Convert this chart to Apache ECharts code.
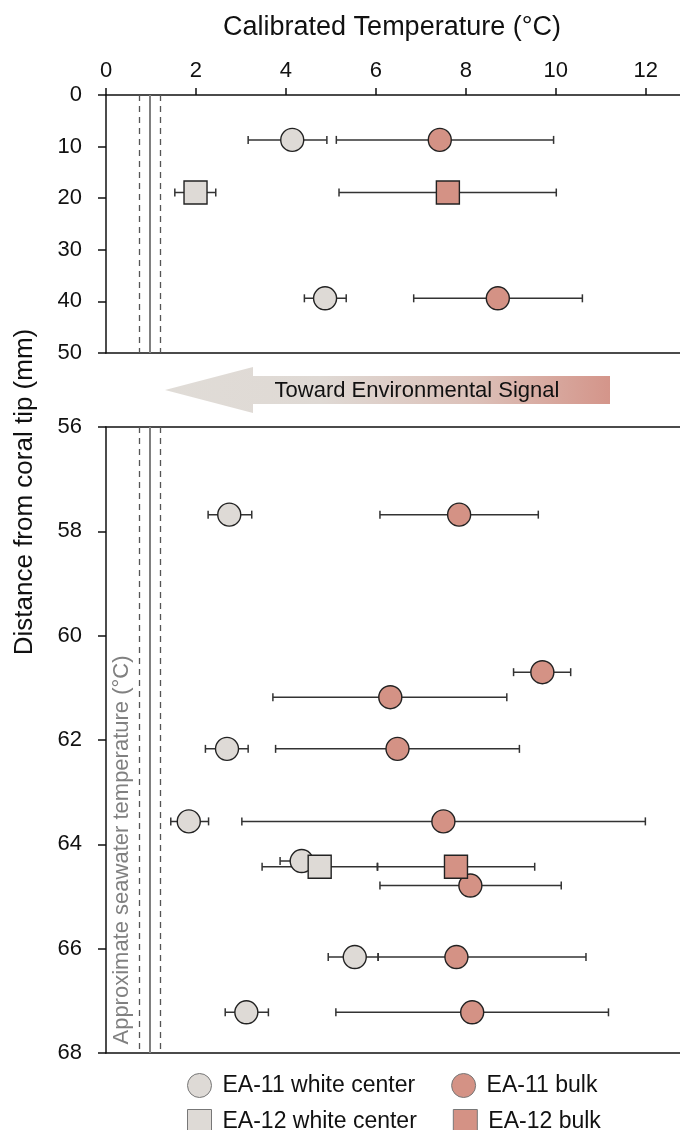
<!DOCTYPE html>
<html>
<head>
<meta charset="utf-8">
<script src="https://cdn.jsdelivr.net/npm/echarts@6/dist/echarts.min.js"></script>
<style>
html,body{margin:0;padding:0;background:#fff;}
#chart{width:680px;height:1130px;}
</style>
</head>
<body>
<div id="chart"></div>
<script>
// [temperature, depth(mm), errLow, errHigh]
const ea11White = [
  [4.14, 8.7, 3.16, 4.91],
  [4.87, 39.4, 4.41, 5.34],
  [2.74, 57.68, 2.27, 3.24],
  [2.69, 62.17, 2.21, 3.16],
  [1.84, 63.56, 1.44, 2.28],
  [4.35, 64.32, 3.87, 4.83],
  [5.53, 66.16, 4.94, 6.05],
  [3.12, 67.22, 2.65, 3.61]
];
const ea11Bulk = [
  [7.42, 8.7, 5.12, 9.95],
  [8.71, 39.4, 6.84, 10.59],
  [7.85, 57.68, 6.09, 9.61],
  [9.70, 60.70, 9.06, 10.33],
  [6.32, 61.18, 3.71, 8.91],
  [6.48, 62.17, 3.77, 9.19],
  [7.50, 63.56, 3.02, 11.99],
  [8.10, 64.79, 6.09, 10.12],
  [7.79, 66.16, 6.05, 10.67],
  [8.14, 67.22, 5.11, 11.17]
];
const ea12White = [
  [1.99, 18.9, 1.53, 2.44],
  [4.75, 64.43, 3.47, 6.03]
];
const ea12Bulk = [
  [7.60, 18.9, 5.18, 10.01],
  [7.78, 64.43, 6.04, 9.53]
];
const xTicks = [0, 2, 4, 6, 8, 10, 12];
const seawaterLines = [0.73, 0.97, 1.21]; // low bound, estimate, high bound
const topRange = [0, 50];
const bottomRange = [56, 68];

const FONT = 'Liberation Sans, Arial, sans-serif';
const WHITE = '#dedad6';
const BULK = '#d49285';
const EDGE = '#222';

const chart = echarts.init(document.getElementById('chart'), null, {renderer: 'canvas'});

function split(arr, top) {
  return arr.filter(d => top ? d[1] <= topRange[1] : d[1] >= bottomRange[0]);
}
function pts(arr) { return arr.map(d => [d[0], d[1]]); }
function errs(arr) { return arr.map(d => [d[2], d[3], d[1]]); }

function renderErr(params, api) {
  const y = api.value(2);
  const a = api.coord([api.value(0), y]);
  const b = api.coord([api.value(1), y]);
  const c = 4;
  const st = {stroke: '#333', lineWidth: 1.5};
  return {type: 'group', children: [
    {type: 'line', shape: {x1: a[0], y1: a[1], x2: b[0], y2: b[1]}, style: st},
    {type: 'line', shape: {x1: a[0], y1: a[1] - c, x2: a[0], y2: a[1] + c}, style: st},
    {type: 'line', shape: {x1: b[0], y1: b[1] - c, x2: b[0], y2: b[1] + c}, style: st}
  ]};
}

function markLines() {
  return {
    silent: true, symbol: 'none', label: {show: false}, animation: false,
    data: seawaterLines.map((v, i) => ({
      xAxis: v,
      lineStyle: i === 1 ? {color: '#808080', width: 2, type: 'solid'} : {color: '#555', width: 1.3, type: [6, 5]}
    }))
  };
}

const series = [];
[true, false].forEach((isTop, g) => {
  const xi = isTop ? 0 : 2;
  const yi = g;
  const groups = [ea11White, ea11Bulk, ea12White, ea12Bulk];
  groups.forEach((arr, k) => {
    const s = {
      type: 'custom', xAxisIndex: xi, yAxisIndex: yi, z: 2,
      renderItem: renderErr, data: errs(split(arr, isTop)),
      encode: {x: [0, 1], y: 2}, silent: true, animation: false
    };
    if (k === 0) s.markLine = markLines();
    series.push(s);
  });
  const defs = [
    ['EA-11 white center', ea11White, 'circle', WHITE, 3],
    ['EA-11 bulk', ea11Bulk, 'circle', BULK, 3],
    ['EA-12 white center', ea12White, 'rect', WHITE, 4],
    ['EA-12 bulk', ea12Bulk, 'rect', BULK, 4]
  ];
  defs.forEach(([name, arr, sym, col, z]) => {
    series.push({
      type: 'scatter', name: name, xAxisIndex: xi, yAxisIndex: yi, z: z,
      symbol: sym, symbolSize: 23, data: pts(split(arr, isTop)),
      itemStyle: {color: col, borderColor: EDGE, borderWidth: 1.4, opacity: 1},
      emphasis: {disabled: true}, animation: false
    });
  });
});

const plainX = (gridIndex, pos) => ({
  type: 'value', gridIndex: gridIndex, position: pos, min: 0, max: 12.76,
  axisLine: {show: true, onZero: false, lineStyle: {color: '#111', width: 1.5}},
  axisTick: {show: false}, axisLabel: {show: false}, splitLine: {show: false}
});

const yAxisBase = (gridIndex, range, interval) => ({
  type: 'value', gridIndex: gridIndex, inverse: true, min: range[0], max: range[1], interval: interval,
  axisLine: {show: true, onZero: false, lineStyle: {color: '#111', width: 1.5}},
  axisTick: {show: true, length: 8, lineStyle: {color: '#111', width: 1.5}},
  axisLabel: {fontSize: 22, color: '#111', margin: 24, fontFamily: FONT},
  splitLine: {show: false}
});

const legendBase = (names, top) => ({
  data: names, left: 187, top: top, padding: 0,
  itemWidth: 24, itemHeight: 24, itemGap: 36, selectedMode: false,
  itemStyle: {borderColor: '#777', borderWidth: 1},
  textStyle: {fontSize: 23, color: '#111', fontFamily: FONT, padding: [0, 0, 0, 6]}
});

const option = {
  backgroundColor: '#fff',
  animation: false,
  textStyle: {fontFamily: FONT},
  grid: [
    {left: 106, top: 95, width: 574, height: 258},
    {left: 106, top: 427, width: 574, height: 626}
  ],
  xAxis: [
    {
      type: 'value', gridIndex: 0, position: 'top', min: 0, max: 12.76,
      axisLine: {show: true, onZero: false, lineStyle: {color: '#111', width: 1.5}},
      axisTick: {show: true, inside: false, length: 7, customValues: xTicks, lineStyle: {color: '#111', width: 1.5}},
      axisLabel: {show: true, customValues: xTicks, fontSize: 22, color: '#111', margin: 13, fontFamily: FONT},
      splitLine: {show: false}
    },
    plainX(0, 'bottom'),
    plainX(1, 'top'),
    plainX(1, 'bottom')
  ],
  yAxis: [
    yAxisBase(0, topRange, 10),
    yAxisBase(1, bottomRange, 2)
  ],
  legend: [
    legendBase(['EA-11 white center', 'EA-11 bulk'], 1073),
    legendBase(['EA-12 white center', 'EA-12 bulk'], 1109)
  ],
  graphic: [
    {
      type: 'text', x: 392, y: 28, z: 10,
      style: {text: 'Calibrated Temperature (°C)', fontSize: 27, fill: '#111', fontFamily: FONT, align: 'center', verticalAlign: 'middle'}
    },
    {
      type: 'text', x: 25, y: 492, rotation: Math.PI / 2, z: 10,
      style: {text: 'Distance from coral tip (mm)', fontSize: 26, fill: '#111', fontFamily: FONT, align: 'center', verticalAlign: 'middle'}
    },
    {
      type: 'text', x: 122, y: 850, rotation: Math.PI / 2, z: 10,
      style: {text: 'Approximate seawater temperature (°C)', fontSize: 22, fill: '#808080', fontFamily: FONT, align: 'center', verticalAlign: 'middle'}
    },
    {
      type: 'polygon', z: 5,
      shape: {points: [[165, 390], [253, 367], [253, 376], [610, 376], [610, 404], [253, 404], [253, 413]]},
      style: {
        fill: new echarts.graphic.LinearGradient(0, 0, 1, 0, [
          {offset: 0, color: '#e0dcd7'},
          {offset: 0.35, color: '#dfd9d4'},
          {offset: 0.7, color: '#dcc0b8'},
          {offset: 1, color: '#d4958a'}
        ], false)
      }
    },
    {
      type: 'text', x: 417, y: 391, z: 6,
      style: {text: 'Toward Environmental Signal', fontSize: 22, fill: '#111', fontFamily: FONT, align: 'center', verticalAlign: 'middle'}
    }
  ],
  series: series
};
chart.setOption(option);
</script>
</body>
</html>
